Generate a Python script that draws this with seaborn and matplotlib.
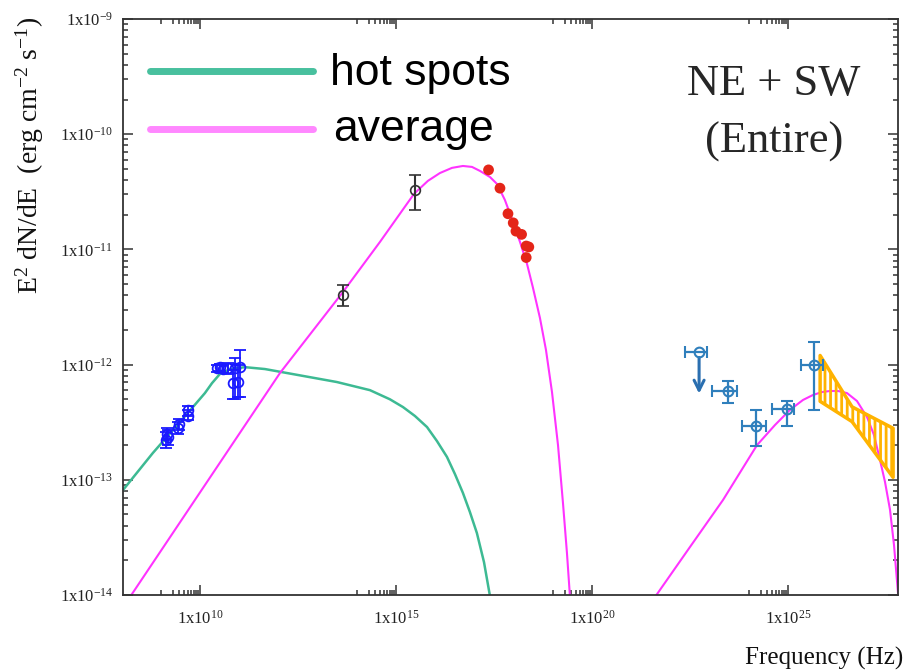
import numpy as np
import pandas as pd
import matplotlib
matplotlib.use("Agg")
import matplotlib.pyplot as plt
from matplotlib.lines import Line2D
from matplotlib.ticker import FixedLocator, FixedFormatter, NullFormatter
import seaborn as sns

# ---------------- data ----------------
# model curves: frequency (Hz), E^2 dN/dE (erg cm^-2 s^-1)
hot_freq = [1.09e8, 6.3e8, 4.65e9, 1.34e10, 2.03e10, 3.24e10, 5.8e10, 1.41e11, 4.55e11,
            1.66e12, 3.1e13, 2.17e14, 7.0e14, 1.51e15, 3.05e15, 6.2e15, 1.11e16, 2.0e16,
            3.2e16, 5.1e16, 7.7e16, 1.16e17, 1.76e17, 2.5e17]
hot_flux = [8.15e-14, 1.71e-13, 3.72e-13, 5.66e-13, 6.9e-13, 8.3e-13, 9.15e-13, 9.5e-13, 9.15e-13,
            8.45e-13, 7.06e-13, 6.0e-13, 5.0e-13, 4.28e-13, 3.58e-13, 2.87e-13, 2.17e-13, 1.58e-13,
            1.12e-13, 7.7e-14, 5.25e-14, 3.45e-14, 1.93e-14, 9.8e-15]

avg_syn_freq = [1.64e8, 1.34e10, 1.1e12, 4.45e13, 3.9e14, 2.88e15, 6.5e15, 1.32e16, 2.68e16,
                5.1e16, 8.7e16, 1.39e17, 2.5e17, 3.78e17, 6.0e17, 9.7e17, 1.46e18, 2.2e18,
                3.1e18, 4.71e18, 6.71e18, 9.55e18, 1.36e19, 1.82e19, 2.3e19, 2.75e19]
avg_syn_flux = [9.6e-15, 9.0e-14, 8.45e-13, 4.27e-12, 1.16e-11, 3.03e-11, 3.93e-11, 4.6e-11, 5.1e-11,
                5.3e-11, 5.2e-11, 4.8e-11, 4.25e-11, 3.7e-11, 2.69e-11, 1.73e-11, 1.16e-11, 7.5e-12,
                4.7e-12, 2.54e-12, 1.34e-12, 5.78e-13, 2.0e-13, 6.3e-14, 2.32e-14, 9.6e-15]

avg_ic_freq = [4.05e21, 3.16e22, 2.2e23, 1.62e24, 4.66e24, 1.12e25, 2.41e25, 4.35e25, 7.4e25,
               1.18e26, 1.89e26, 3.2e26, 5.75e26, 1.04e27, 1.56e27, 2.22e27, 2.98e27, 4.0e27,
               5.06e27, 6.4e27]
avg_ic_flux = [9.6e-15, 2.61e-14, 6.68e-14, 2.0e-13, 2.99e-13, 4.04e-13, 4.93e-13, 5.45e-13, 5.78e-13,
               5.9e-13, 5.9e-13, 5.66e-13, 4.83e-13, 3.5e-13, 2.45e-13, 1.49e-13, 9.6e-14, 5.5e-14,
               2.72e-14, 1.04e-14]

# radio data (blue)
radio_freq = [1.40e9, 1.45e9, 1.50e9, 2.7e9, 2.9e9, 4.9e9, 5.1e9, 2.7e10, 3.3e10, 3.9e10,
              5.2e10, 7.8e10, 1.05e11, 7.0e10, 9.3e10]
radio_flux = [2.2e-13, 2.5e-13, 2.35e-13, 2.8e-13, 3.05e-13, 3.6e-13, 4.0e-13, 9.3e-13, 9.5e-13,
              9.2e-13, 9.3e-13, 9.4e-13, 9.6e-13, 6.9e-13, 7.0e-13]
radio_lo = [1.9e-13, 2.2e-13, 2.0e-13, 2.5e-13, 2.7e-13, 3.3e-13, 3.6e-13, 8.6e-13, 8.8e-13,
            8.5e-13, 8.3e-13, 5.0e-13, 5.2e-13, 5.0e-13, 5.2e-13]
radio_hi = [2.6e-13, 2.8e-13, 2.7e-13, 3.2e-13, 3.4e-13, 4.0e-13, 4.4e-13, 1.0e-12, 1.02e-12,
            1.0e-12, 1.04e-12, 1.15e-12, 1.35e-12, 9.0e-13, 1.0e-12]

# infrared / optical (black)
opt_freq = [4.5e13, 3.0e15]
opt_flux = [4.0e-12, 3.3e-11]
opt_lo = [3.2e-12, 2.2e-11]
opt_hi = [4.9e-12, 4.4e-11]

# X-ray (red)
xray_freq = [2.3e17, 4.5e17, 7.2e17, 9.8e17, 1.15e18, 1.6e18, 2.1e18, 2.45e18, 2.1e18]
xray_flux = [4.9e-11, 3.4e-11, 2.04e-11, 1.7e-11, 1.44e-11, 1.35e-11, 1.07e-11, 1.05e-11, 8.5e-12]

# gamma-ray (steel blue)
gam_freq = [2.95e23, 1.5e24, 9.3e24, 4.6e25]
gam_flux = [5.9e-13, 2.95e-13, 4.1e-13, 1.0e-12]
gam_xlo = [1.15e23, 6.8e23, 3.9e24, 2.1e25]
gam_xhi = [5.0e23, 2.75e24, 1.4e25, 7.8e25]
gam_ylo = [4.6e-13, 1.95e-13, 2.95e-13, 4.0e-13]
gam_yhi = [7.2e-13, 4.0e-13, 4.8e-13, 1.58e-12]

# gamma-ray upper limit
ul_freq = [5.4e22]
ul_flux = [1.29e-12]
ul_xlo = [2.3e22]
ul_xhi = [8.5e22]
ul_arrow_to = [5.6e-13]

# TeV butterfly (orange)
bfly_freq = [6.6e25, 4.3e26, 4.8e27]
bfly_lo = [4.8e-13, 3.2e-13, 1.05e-13]
bfly_hi = [1.2e-12, 4.3e-13, 2.8e-13]

# axes
x_major = [1e10, 1e15, 1e20, 1e25]
x_major_labels = ["1x10$^{10}$", "1x10$^{15}$", "1x10$^{20}$", "1x10$^{25}$"]
y_major = [1e-14, 1e-13, 1e-12, 1e-11, 1e-10, 1e-9]
y_major_labels = ["1x10$^{-14}$", "1x10$^{-13}$", "1x10$^{-12}$", "1x10$^{-11}$",
                  "1x10$^{-10}$", "1x10$^{-9}$"]
x_range = (1.09e8, 6.4e27)
y_range = (1e-14, 1e-9)

legend_labels = ["hot spots", "average"]

# ---------------- style ----------------
sns.set_style("ticks")
plt.rcParams["font.family"] = ["Liberation Serif", "DejaVu Serif"]
plt.rcParams["mathtext.fontset"] = "custom"
plt.rcParams["mathtext.rm"] = "Liberation Serif"
plt.rcParams["mathtext.it"] = "Liberation Serif:italic"
plt.rcParams["mathtext.bf"] = "Liberation Serif:bold"
plt.rcParams["hatch.linewidth"] = 2.0

GREEN = "#3dba93"
GREEN_LEG = "#48c09e"
PINK = "#ff33ff"
PINK_LEG = "#ff88ff"
RBLUE = "#1a1aff"
DARK = "#333333"
RED = "#e42518"
GBLUE = "#2f7fbc"
ORANGE = "#ffb300"

fig = plt.figure(figsize=(9.04, 6.70), dpi=100)
ax = fig.add_axes([123 / 904, 75 / 670, 775 / 904, 576 / 670])
ax.set_xscale("log")
ax.set_yscale("log")

# model curves
sns.lineplot(x=hot_freq, y=hot_flux, ax=ax, color=GREEN, lw=1.8, estimator=None, sort=False)
sns.lineplot(x=avg_syn_freq, y=avg_syn_flux, ax=ax, color=PINK, lw=1.5, estimator=None, sort=False)
sns.lineplot(x=avg_ic_freq, y=avg_ic_flux, ax=ax, color=PINK, lw=1.5, estimator=None, sort=False)

# radio
rf = np.array(radio_freq); ry = np.array(radio_flux)
ax.errorbar(rf, ry, yerr=[ry - np.array(radio_lo), np.array(radio_hi) - ry], fmt="o",
            mfc="none", mec=RBLUE, ms=7, mew=1.3, ecolor=RBLUE, elinewidth=1.3,
            capsize=4, capthick=1.3, zorder=4)

# optical
of = np.array(opt_freq); oy = np.array(opt_flux)
ax.errorbar(of, oy, yerr=[oy - np.array(opt_lo), np.array(opt_hi) - oy], fmt="o",
            mfc="none", mec=DARK, ms=7, mew=1.2, ecolor=DARK, elinewidth=1.5,
            capsize=4, capthick=1.5, zorder=4)

# X-ray
sns.scatterplot(x=xray_freq, y=xray_flux, ax=ax, color=RED, s=60, edgecolor="none", zorder=5)

# gamma
gf = np.array(gam_freq); gy = np.array(gam_flux)
ax.errorbar(gf, gy,
            xerr=[gf - np.array(gam_xlo), np.array(gam_xhi) - gf],
            yerr=[gy - np.array(gam_ylo), np.array(gam_yhi) - gy],
            fmt="o", mfc="none", mec=GBLUE, ms=7, mew=1.5, ecolor=GBLUE,
            elinewidth=1.6, capsize=4, capthick=1.6, zorder=4)
uf = np.array(ul_freq); uy = np.array(ul_flux)
ax.errorbar(uf, uy, xerr=[uf - np.array(ul_xlo), np.array(ul_xhi) - uf],
            fmt="o", mfc="none", mec=GBLUE, ms=7, mew=1.5, ecolor=GBLUE,
            elinewidth=1.6, capsize=4, capthick=1.6, zorder=4)
for f, y0, y1 in zip(ul_freq, ul_flux, ul_arrow_to):
    ax.annotate("", xy=(f, y1), xytext=(f, y0),
                arrowprops=dict(arrowstyle="->", color="#2a6fb0", lw=2.2,
                                mutation_scale=18, shrinkA=4, shrinkB=0))

# butterfly
ax.fill_between(bfly_freq, bfly_lo, bfly_hi, facecolor="none", edgecolor=ORANGE,
                hatch="|||", linewidth=2.5, zorder=3)

ax.set_xlim(*x_range)
ax.set_ylim(*y_range)

# ticks
ax.xaxis.set_major_locator(FixedLocator(x_major))
ax.xaxis.set_major_formatter(FixedFormatter(x_major_labels))
ax.xaxis.set_minor_locator(FixedLocator([k * v / 10 for v in x_major for k in range(1, 10)]))
ax.xaxis.set_minor_formatter(NullFormatter())
ax.yaxis.set_major_locator(FixedLocator(y_major))
ax.yaxis.set_major_formatter(FixedFormatter(y_major_labels))
ax.yaxis.set_minor_locator(FixedLocator([k * v for v in y_major[:-1] for k in range(2, 10)]))
ax.yaxis.set_minor_formatter(NullFormatter())
ax.tick_params(which="both", direction="in", top=True, right=True, color=DARK, width=1.1)
ax.tick_params(which="major", length=7)
ax.tick_params(which="minor", length=3.5)
ax.tick_params(axis="y", which="major", labelsize=12, pad=7, labelcolor="#222222")
ax.tick_params(axis="x", which="major", labelsize=12, pad=11, labelcolor="#222222")
for s in ax.spines.values():
    s.set_color(DARK)
    s.set_linewidth(1.3)
ax.set_xlabel("")
ax.set_ylabel("")

# axis titles
fig.text(30 / 904, 1 - 155 / 670, r"E$^2$ dN/dE  (erg cm$^{-2}$ s$^{-1}$)", rotation=90,
         ha="center", va="center", fontsize=20, color="#111111")
fig.text(903 / 904, 1 - 665 / 670, "Frequency (Hz)", ha="right", va="baseline",
         fontsize=18, color="#111111")

# custom legend
for i, (lab, col) in enumerate(zip(legend_labels, [GREEN_LEG, PINK_LEG])):
    yl = [71, 129][i]
    yb = [85, 141][i]
    fig.add_artist(Line2D([150 / 904, 313 / 904], [1 - yl / 670, 1 - yl / 670],
                          color=col, lw=5))
    fig.text([330, 333][i] / 904, 1 - yb / 670, lab, fontsize=32,
             family=["Liberation Sans", "DejaVu Sans"], va="baseline", ha="left",
             color="black")

fig.text(774 / 904, 1 - 95 / 670, "NE + SW", ha="center", va="baseline", fontsize=32)
fig.text(774 / 904, 1 - 153 / 670, "(Entire)", ha="center", va="baseline", fontsize=32)

fig.savefig("out.png", dpi=100)
